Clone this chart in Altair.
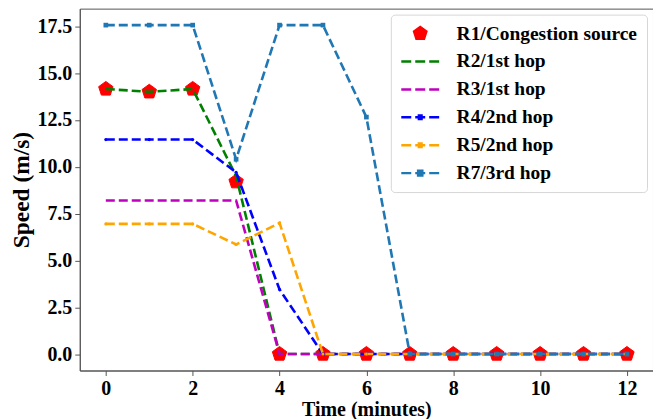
import altair as alt
import pandas as pd

minutes = list(range(13))
series_names = ["R1/Congestion source", "R2/1st hop", "R3/1st hop",
                "R4/2nd hop", "R5/2nd hop", "R7/3rd hop"]
colors = ["#ff0000", "#008000", "#bf00bf", "#0000ff", "#ffa500", "#1f77b4"]

r1 = [14.15, 14.0, 14.15, 9.2, 0, 0, 0, 0, 0, 0, 0, 0, 0]
r2 = [14.15, 14.0, 14.15, 9.5, 0, 0, 0, 0, 0, 0, 0, 0, 0]
r3 = [8.2, 8.2, 8.2, 8.2, 0, 0, 0, 0, 0, 0, 0, 0, 0]
r4 = [11.45, 11.45, 11.45, 9.7, 3.45, 0, 0, 0, 0, 0, 0, 0, 0]
r5 = [6.95, 6.95, 6.95, 5.85, 7.0, 0, 0, 0, 0, 0, 0, 0, 0]
r7 = [17.56, 17.56, 17.56, 10.4, 17.56, 17.56, 12.65, 0, 0, 0, 0, 0, 0]

x_ticks = [0, 2, 4, 6, 8, 10, 12]
y_ticks = [0, 2.5, 5, 7.5, 10, 12.5, 15, 17.5]

all_series = [r1, r2, r3, r4, r5, r7]
rows = []
for name, vals in zip(series_names, all_series):
    for m, v in zip(minutes, vals):
        rows.append({"series": name, "minute": m, "speed": v})
df = pd.DataFrame(rows)

# legend symbols (unit coordinates, custom SVG paths)
dash = "M-1,0H-0.474M-0.263,0H0.263M0.474,0H1"
pent_leg = "M0,-0.34L0.323,-0.105L0.2,0.275L-0.2,0.275L-0.323,-0.105Z"
small_sq = "M-0.07,-0.09H0.07V0.09H-0.07Z"
big_sq = "M-0.11,-0.13H0.11V0.13H-0.11Z"
legend_shapes = [pent_leg, dash, dash, dash + small_sq, dash + small_sq, dash + big_sq]
pentagon = "M0,-1L0.951,-0.309L0.588,0.809L-0.588,0.809L-0.951,-0.309Z"

x_enc = alt.X("minute:Q",
              scale=alt.Scale(domain=[-0.6, 12.6], nice=False, zero=False),
              axis=alt.Axis(values=x_ticks, format="d", title="Time (minutes)",
                            titleFontSize=20, labelPadding=3, titlePadding=1))
y_enc = alt.Y("speed:Q",
              scale=alt.Scale(domain=[-0.878, 18.44], nice=False, zero=False),
              axis=alt.Axis(values=y_ticks, format=".1f", title="Speed (m/s)",
                            titleFontSize=23.5, labelPadding=3, titlePadding=3))

base = alt.Chart(df)

layers = []
# R1 pentagons
layers.append(
    base.transform_filter(alt.datum.series == series_names[0])
    .mark_point(shape=pentagon, filled=True, size=230, color=colors[0],
                stroke=colors[0], strokeWidth=1, opacity=1)
    .encode(x=x_enc, y=y_enc)
)
# dashed lines
for i in range(1, 6):
    layers.append(
        base.transform_filter(alt.datum.series == series_names[i])
        .mark_line(color=colors[i], strokeDash=[9, 4], strokeWidth=2.6)
        .encode(x=x_enc, y=y_enc, order="minute:Q")
    )
# small markers
marker_specs = [(3, "circle", 10), (4, "circle", 10), (5, "square", 22)]
for i, shp, sz in marker_specs:
    layers.append(
        base.transform_filter(alt.datum.series == series_names[i])
        .mark_point(shape=shp, filled=True, size=sz, color=colors[i], opacity=1)
        .encode(x=x_enc, y=y_enc)
    )
# legend-only layer
leg_scale_c = alt.Scale(domain=series_names, range=colors)
leg_scale_s = alt.Scale(domain=series_names, range=legend_shapes)
layers.append(
    base.transform_filter("false")
    .mark_point(filled=True, strokeWidth=2.5)
    .encode(
        x=x_enc, y=y_enc,
        fill=alt.Fill("series:N", scale=leg_scale_c, legend=alt.Legend(title=None)),
        stroke=alt.Stroke("series:N", scale=leg_scale_c, legend=alt.Legend(title=None)),
        shape=alt.Shape("series:N", scale=leg_scale_s, legend=alt.Legend(title=None)),
    )
)

chart = (
    alt.layer(*layers)
    .properties(width=575, height=363,
                padding={"left": 2, "top": 0, "right": 0, "bottom": 0})
    .configure_view(stroke="#555555", strokeWidth=1)
    .configure_axis(grid=False, domainColor="#555555", tickColor="#555555",
                    tickSize=5, labelFont="Liberation Serif", labelFontWeight="bold",
                    labelFontSize=20, labelColor="black",
                    titleFont="Liberation Serif", titleFontWeight="bold",
                    titleColor="black")
    .configure_legend(orient="top-right", offset=6, padding=9,
                      fillColor="white", strokeColor="#d6d6d6", cornerRadius=4,
                      labelFont="Liberation Serif", labelFontWeight="bold",
                      labelFontSize=19.5, labelColor="black", labelLimit=400,
                      symbolSize=1444, symbolStrokeWidth=2.5, clipHeight=20,
                      rowPadding=8, labelOffset=16, symbolOpacity=1)
)

chart.save("out.html", embed_options={"renderer": "svg", "actions": False})
